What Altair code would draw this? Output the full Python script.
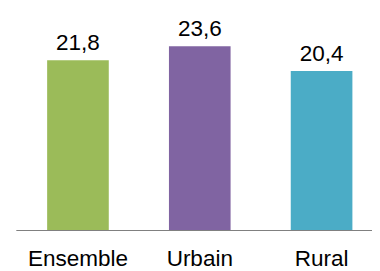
import altair as alt
import pandas as pd

categories = ["Ensemble", "Urbain", "Rural"]
values = [21.8, 23.6, 20.4]
labels = ["21,8", "23,6", "20,4"]
colors = ["#9BBB59", "#8064A2", "#4BACC6"]

df = pd.DataFrame({"cat": categories, "val": values, "lab": labels})

x = alt.X("cat:N", sort=categories,
          scale=alt.Scale(paddingInner=0.494, paddingOuter=0.209, align=0.615),
          axis=alt.Axis(title=None, labelAngle=0, ticks=False, domain=True,
                        domainColor="#808080", domainWidth=1.2,
                        labelFont="Liberation Sans", labelFontSize=23,
                        labelColor="#000000", labelPadding=18))
y = alt.Y("val:Q", scale=alt.Scale(domain=[0, 25], nice=False), axis=None)

bars = alt.Chart(df).mark_bar().encode(
    x=x, y=y,
    color=alt.Color("cat:N", scale=alt.Scale(domain=categories, range=colors), legend=None),
)
text = alt.Chart(df).mark_text(dy=-10, baseline="alphabetic", font="Liberation Sans",
                               fontSize=23, color="#000000").encode(
    x=alt.X("cat:N", sort=categories), y=y, text="lab:N")

chart = (bars + text).properties(
    width=364, height=199,
    autosize=alt.AutoSizeParams(type="none"),
    padding={"left": 8, "top": 25, "right": 0, "bottom": 39},
).configure_view(stroke=None)

chart.save("out.html", embed_options={"renderer": "svg", "actions": False})
